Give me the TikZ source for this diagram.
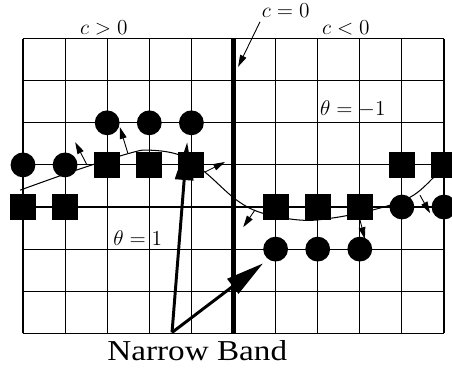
\documentclass[tikz,border=0pt]{standalone}
\usepackage{fontspec}
\newfontfamily\bandfont{Liberation Serif}
\usetikzlibrary{arrows.meta}
\tikzset{
  dot/.style={circle,fill=black,minimum size=0.59cm,inner sep=0pt},
  sq/.style={rectangle,fill=black,minimum size=0.62cm,inner sep=0pt},
  lbl/.style={anchor=base west,inner sep=0pt,font=\fontsize{13.9}{16}\selectfont},
  normal/.style={-{Triangle[length=2.8mm,width=1.6mm]},line width=0.6pt},
  bigarrow/.style={-{Triangle[length=9mm,width=4.3mm]},line width=2pt},
}
\begin{document}
\begin{tikzpicture}
\useasboundingbox (-0.546,-0.80) rectangle (10.19,7.917);
% grid
\draw[line width=0.7pt] (0,0) grid (10,7);
\draw[line width=2.8pt] (5,0) -- (5,7);
% interface curve
\draw[line width=0.7pt] plot[smooth,tension=0.6] coordinates {(-0.07,3.40) (1.28,3.88) (2.54,4.28) (3.02,4.35) (3.73,4.23) (4.32,3.83) (5.08,3.16) (5.70,2.85) (6.58,2.69) (7.29,2.73) (8.31,2.93) (9.19,3.23) (9.74,3.69) (10.02,4.04)};
% markers left
\node[dot] (c1) at (2,5) {};
\node[dot] (c2) at (3,5) {};
\node[dot] (c3) at (4,5) {};
\node[dot] (c4) at (0,4) {};
\node[dot] (c5) at (1,4) {};
\node[sq] (s1) at (2,4) {};
\node[sq] (s2) at (3,4) {};
\node[sq] (s3) at (4,4) {};
\node[sq] (s4) at (0,3) {};
\node[sq] (s5) at (1,3) {};
% markers right
\node[sq] (s6) at (9,4) {};
\node[sq] (s7) at (10,4) {};
\node[sq] (s8) at (6,3) {};
\node[sq] (s9) at (7,3) {};
\node[sq] (s10) at (8,3) {};
\node[dot] (c6) at (9,3) {};
\node[dot] (c7) at (10,3) {};
\node[dot] (c8) at (6,2) {};
\node[dot] (c9) at (7,2) {};
\node[dot] (c10) at (8,2) {};
% normals
\coordinate (n1a) at (1.52,4.0);  \coordinate (n1b) at (1.24,4.54);
\coordinate (n2a) at (2.49,4.28); \coordinate (n2b) at (2.30,4.90);
\coordinate (n3a) at (4.32,3.83); \coordinate (n3b) at (4.80,4.07);
\coordinate (n4a) at (5.51,2.93); \coordinate (n4b) at (5.23,2.52);
\coordinate (n5a) at (8.00,2.71); \coordinate (n5b) at (8.12,2.24);
\coordinate (n6a) at (9.43,3.28); \coordinate (n6b) at (9.67,2.85);
\draw[normal] (n1a) -- (n1b);
\draw[normal] (n2a) -- (n2b);
\draw[normal] (n3a) -- (n3b);
\draw[normal] (n4a) -- (n4b);
\draw[normal] (n5a) -- (n5b);
\draw[normal] (n6a) -- (n6b);
% labels
\node[lbl] (cpos) at (1.35,7.09) {$c>0$};
\node[lbl] (czero) at (5.67,7.49) {$c=0$};
\node[lbl] (cneg) at (7.10,7.09) {$c<0$};
\node[lbl] (thm) at (7.05,5.18) {$\theta=-1$};
\node[lbl] (thp) at (2.14,2.09) {$\theta=1$};
\coordinate (ca) at (5.63,7.40);
\coordinate (cb) at (5.11,6.33);
\draw[normal] (ca) -- (cb);
% narrow band
\node[anchor=base,inner sep=0pt] (nb) at (4.14,-0.64) {\scalebox{1.15}[1]{\bandfont\fontsize{19.5}{22}\selectfont Narrow Band}};
\coordinate (nbs) at (3.54,0.02);
\coordinate (t1) at (3.90,4.54);
\coordinate (t2) at (5.70,1.66);
\draw[bigarrow] (nbs) -- (t1);
\draw[bigarrow] (nbs) -- (t2);
\end{tikzpicture}
\end{document}
